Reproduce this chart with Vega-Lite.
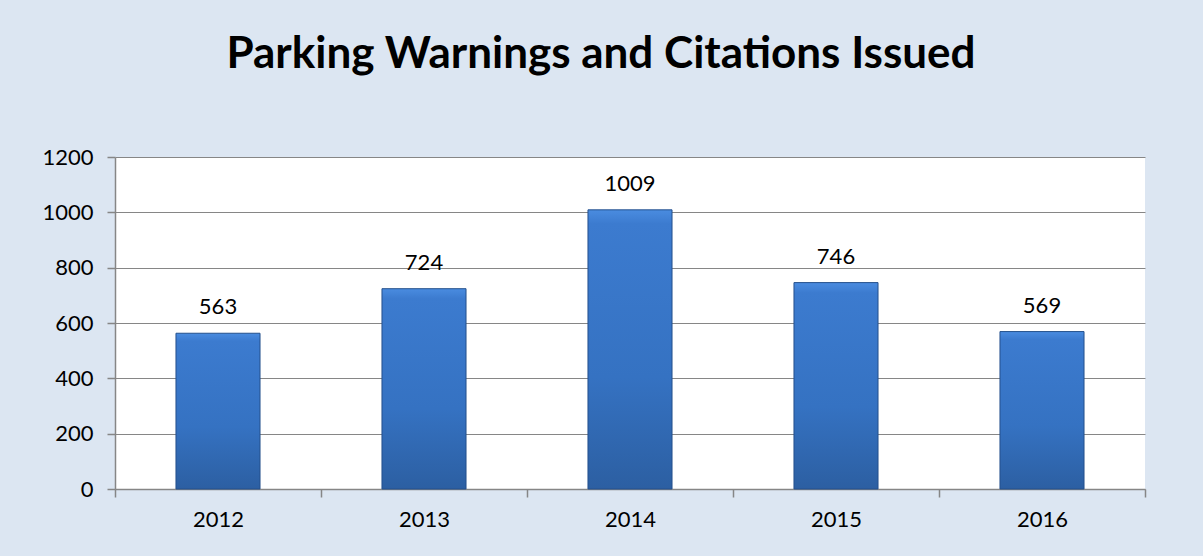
{
  "$schema": "https://vega.github.io/schema/vega-lite/v6.json",
  "width": 1030,
  "height": 332,
  "autosize": {"type": "none"},
  "padding": {"left": 115, "top": 157, "right": 58, "bottom": 67},
  "background": "#dce6f2",
  "title": {
    "text": "Parking Warnings and Citations Issued",
    "font": "Lato",
    "fontSize": 44,
    "fontWeight": "bold",
    "color": "#000000",
    "anchor": "middle",
    "frame": "group",
    "dx": -29,
    "offset": 69
  },
  "data": {
    "values": [
      {"year": "2012", "count": 563},
      {"year": "2013", "count": 724},
      {"year": "2014", "count": 1009},
      {"year": "2015", "count": 746},
      {"year": "2016", "count": 569}
    ]
  },
  "config": {
    "view": {"fill": "#ffffff", "stroke": null},
    "axis": {
      "labelFont": "Lato",
      "labelFontSize": 22,
      "labelColor": "#000000",
      "domainColor": "#868686",
      "tickColor": "#868686",
      "gridColor": "#868686",
      "domainWidth": 1.5,
      "tickWidth": 1.5,
      "gridWidth": 1.2,
      "title": null
    }
  },
  "encoding": {
    "x": {
      "field": "year",
      "type": "nominal",
      "sort": null,
      "scale": {"paddingInner": 0, "paddingOuter": 0},
      "axis": {"labelAngle": 0, "tickBand": "extent", "tickSize": 8, "labelPadding": 12, "grid": false}
    },
    "y": {
      "field": "count",
      "type": "quantitative",
      "scale": {"domain": [0, 1200], "nice": false},
      "axis": {"values": [0, 200, 400, 600, 800, 1000, 1200], "format": "d", "tickSize": 8, "labelPadding": 14, "grid": true}
    }
  },
  "layer": [
    {
      "mark": {
        "type": "bar",
        "width": {"band": 0.408},
        "stroke": "#24508c",
        "strokeWidth": 1,
        "color": {
          "gradient": "linear",
          "x1": 0, "y1": 0, "x2": 0, "y2": 1,
          "stops": [
            {"offset": 0, "color": "#4a8ce0"},
            {"offset": 0.05, "color": "#3c7bcf"},
            {"offset": 0.6, "color": "#3572c2"},
            {"offset": 1, "color": "#2c5fa2"}
          ]
        }
      }
    },
    {
      "mark": {"type": "text", "baseline": "middle", "dy": -26, "font": "Lato", "fontSize": 22, "color": "#000000"},
      "encoding": {"text": {"field": "count", "type": "quantitative"}}
    }
  ]
}
